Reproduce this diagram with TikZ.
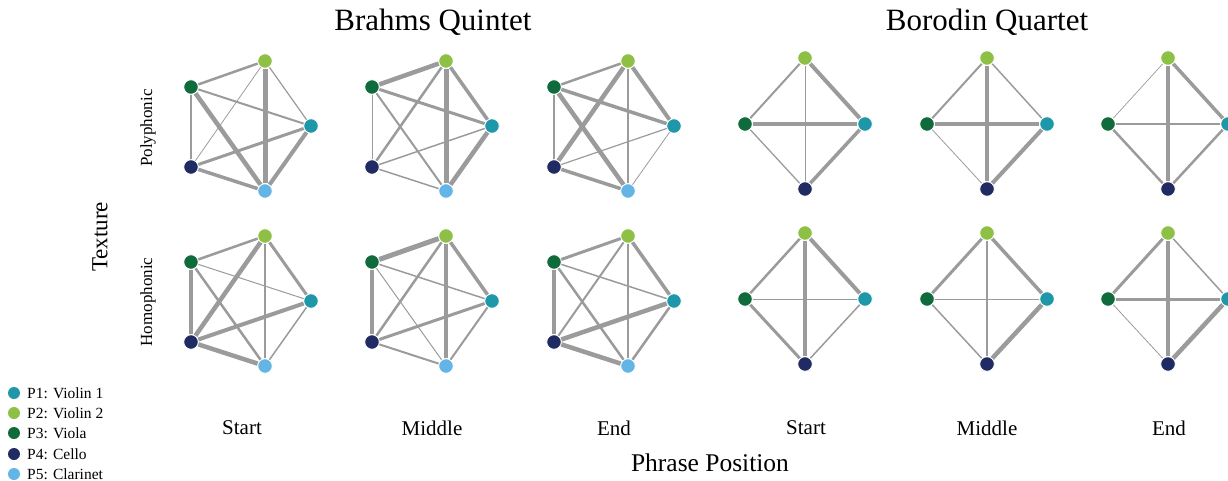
\documentclass[tikz,border=0pt]{standalone}
\usepackage{fontspec}
\setmainfont{Liberation Serif}
\usetikzlibrary{backgrounds}
\definecolor{cPa}{HTML}{1E98A8}
\definecolor{cPb}{HTML}{8DC044}
\definecolor{cPc}{HTML}{0F6B3B}
\definecolor{cPd}{HTML}{1F2B62}
\definecolor{cPe}{HTML}{62B5E5}
\definecolor{edgegray}{HTML}{9B9B9B}
\tikzset{
 pn/.style={circle, inner sep=0pt, minimum size=14.5pt, draw=white, line width=0.8pt},
 ed/.style={draw=edgegray, line width=#1},
 lgdot/.style={circle, inner sep=0pt, minimum size=12pt},
 lgtxt/.style={anchor=west, font=\fontsize{15.5}{18}\selectfont, inner sep=0pt},
 coltxt/.style={font=\fontsize{21}{25}\selectfont},
}
% Brahms pentagon: prefix, dx, dy
\newcommand\brahmsnodes[3]{%
 \node[pn, fill=cPb] (#1-2) at ({265+#2},{61+#3}) {};
 \node[pn, fill=cPc] (#1-3) at ({191+#2},{87+#3}) {};
 \node[pn, fill=cPa] (#1-1) at ({311+#2},{126+#3}) {};
 \node[pn, fill=cPd] (#1-4) at ({191+#2},{167+#3}) {};
 \node[pn, fill=cPe] (#1-5) at ({265+#2},{191+#3}) {};
}
% Borodin diamond: prefix, dx, dy
\newcommand\borodinnodes[3]{%
 \node[pn, fill=cPb] (#1-2) at ({805+#2},{58+#3}) {};
 \node[pn, fill=cPc] (#1-3) at ({745+#2},{124+#3}) {};
 \node[pn, fill=cPa] (#1-1) at ({865+#2},{124+#3}) {};
 \node[pn, fill=cPd] (#1-4) at ({805+#2},{189+#3}) {};
}
\begin{document}
\begin{tikzpicture}[x=1pt,y=-1pt]
\useasboundingbox (0,0) rectangle (1228,481);

% nodes
\brahmsnodes{ga}{0}{0}
\brahmsnodes{gb}{181}{0}
\brahmsnodes{gc}{363}{0}
\brahmsnodes{gd}{0}{175}
\brahmsnodes{ge}{181}{175}
\brahmsnodes{gf}{363}{175}
\borodinnodes{ha}{0}{0}
\borodinnodes{hb}{182}{0}
\borodinnodes{hc}{363}{0}
\borodinnodes{hd}{0}{175}
\borodinnodes{he}{182}{175}
\borodinnodes{hf}{363}{175}

\begin{scope}[on background layer]
\foreach \a/\b/\w in {3/2/2.5, 3/1/2, 3/4/2.5, 3/5/4.5, 2/4/0.8, 2/5/5, 2/1/1.2, 1/4/3, 1/5/4, 4/5/3.5}
  \draw[ed=\w pt] (ga-\a) -- (ga-\b);
\foreach \a/\b/\w in {3/2/4.5, 3/1/3, 3/4/1, 3/5/2, 2/4/2.5, 2/5/5, 2/1/3.5, 1/4/1.5, 1/5/4.5, 4/5/1.5}
  \draw[ed=\w pt] (gb-\a) -- (gb-\b);
\foreach \a/\b/\w in {3/2/2.5, 3/1/3.5, 3/4/2, 3/5/4.5, 2/4/4.5, 2/5/2, 2/1/4, 1/4/1.2, 1/5/0.8, 4/5/3.5}
  \draw[ed=\w pt] (gc-\a) -- (gc-\b);
\foreach \a/\b/\w in {3/2/2.5, 3/1/1, 3/4/4.5, 3/5/2.5, 2/4/4.5, 2/5/1.5, 2/1/3, 1/4/4, 1/5/1.5, 4/5/4.5}
  \draw[ed=\w pt] (gd-\a) -- (gd-\b);
\foreach \a/\b/\w in {3/2/5, 3/1/1.5, 3/4/3.5, 3/5/1, 2/4/2.5, 2/5/3.5, 2/1/3.5, 1/4/3, 1/5/2, 4/5/2}
  \draw[ed=\w pt] (ge-\a) -- (ge-\b);
\foreach \a/\b/\w in {3/2/3, 3/1/1.5, 3/4/3.5, 3/5/2.5, 2/4/2, 2/5/1.5, 2/1/3.5, 1/4/4.5, 1/5/2.5, 4/5/4.5}
  \draw[ed=\w pt] (gf-\a) -- (gf-\b);
\foreach \a/\b/\w in {2/3/2, 2/1/4, 2/4/1, 3/1/3.5, 3/4/1.3, 1/4/3.5}
  \draw[ed=\w pt] (ha-\a) -- (ha-\b);
\foreach \a/\b/\w in {2/3/2, 2/1/1.5, 2/4/3.5, 3/1/4, 3/4/0.8, 1/4/4}
  \draw[ed=\w pt] (hb-\a) -- (hb-\b);
\foreach \a/\b/\w in {2/3/0.7, 2/1/3.5, 2/4/4.5, 3/1/2, 3/4/2.5, 1/4/2.5}
  \draw[ed=\w pt] (hc-\a) -- (hc-\b);
\foreach \a/\b/\w in {2/3/2.5, 2/1/4, 2/4/4, 3/1/1, 3/4/3, 1/4/1.5}
  \draw[ed=\w pt] (hd-\a) -- (hd-\b);
\foreach \a/\b/\w in {2/3/3, 2/1/3.5, 2/4/2.5, 3/1/1, 3/4/1.5, 1/4/4.5}
  \draw[ed=\w pt] (he-\a) -- (he-\b);
\foreach \a/\b/\w in {2/3/3, 2/1/1.5, 2/4/4, 3/1/3, 3/4/0.8, 1/4/4.5}
  \draw[ed=\w pt] (hf-\a) -- (hf-\b);
\end{scope}

% titles
\node[font=\fontsize{31}{35}\selectfont] (t1) at (433,22) {Brahms Quintet};
\node[font=\fontsize{31}{35}\selectfont] (t2) at (987,22) {Borodin Quartet};
\node[font=\fontsize{23}{27}\selectfont, rotate=90] (tex) at (100,237) {Texture};
\node[font=\fontsize{17}{21}\selectfont, rotate=90] (poly) at (148,128) {Polyphonic};
\node[font=\fontsize{17}{21}\selectfont, rotate=90] (homo) at (148,302) {Homophonic};
\node[coltxt] (c1) at (242,428) {Start};
\node[coltxt] (c2) at (432,428) {Middle};
\node[coltxt] (c3) at (614,428) {End};
\node[coltxt] (c4) at (806,428) {Start};
\node[coltxt] (c5) at (987,428) {Middle};
\node[coltxt] (c6) at (1169,428) {End};
\node[font=\fontsize{25.5}{30}\selectfont] (pp) at (710,463) {Phrase Position};

% legend
\node[lgdot, fill=cPa] (l1) at (14,393) {};
\node[lgdot, fill=cPb] (l2) at (14,413) {};
\node[lgdot, fill=cPc] (l3) at (14,433) {};
\node[lgdot, fill=cPd] (l4) at (14,454) {};
\node[lgdot, fill=cPe] (l5) at (14,474) {};
\node[lgtxt] (lt1) at (27,393) {P1: Violin 1};
\node[lgtxt] (lt2) at (27,413) {P2: Violin 2};
\node[lgtxt] (lt3) at (27,433) {P3: Viola};
\node[lgtxt] (lt4) at (27,454) {P4: Cello};
\node[lgtxt] (lt5) at (27,474) {P5: Clarinet};
\end{tikzpicture}
\end{document}
